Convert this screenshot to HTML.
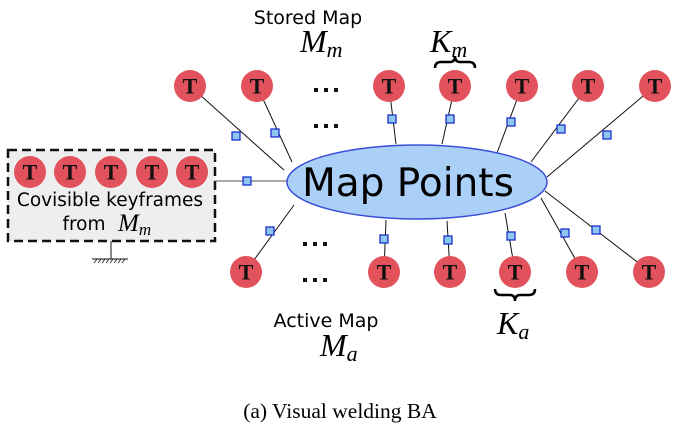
<!DOCTYPE html>
<html><head><style>body{margin:0;background:#fff}svg{display:block}</style></head><body>
<svg width="680" height="445" viewBox="0 0 680 445" xmlns="http://www.w3.org/2000/svg">
<defs>
<g id="T"><circle r="16" fill="#e2525c"/><text y="7.5" text-anchor="middle" font-family="Liberation Serif,serif" font-weight="bold" font-size="22" fill="#111">T</text></g>
<g id="S"><rect x="-4" y="-4" width="8" height="8" fill="#8ec6f0" stroke="#1a2fd0" stroke-width="1.3"/></g>
</defs>
<rect x="8" y="150" width="207" height="91" fill="#eeeeee" stroke="#111" stroke-width="2.5" stroke-dasharray="9,5"/>
<line x1="111" y1="241" x2="111" y2="259" stroke="#111" stroke-width="1"/>
<line x1="92" y1="259" x2="128" y2="259" stroke="#111" stroke-width="1"/>
<g stroke="#111" stroke-width="0.8">
<line x1="94" y1="263" x2="97" y2="259"/><line x1="98" y1="263" x2="101" y2="259"/><line x1="102" y1="263" x2="105" y2="259"/><line x1="106" y1="263" x2="109" y2="259"/><line x1="110" y1="263" x2="113" y2="259"/><line x1="114" y1="263" x2="117" y2="259"/><line x1="118" y1="263" x2="121" y2="259"/><line x1="122" y1="263" x2="125" y2="259"/></g>
<g stroke="#111" stroke-width="1">
<line x1="190" y1="86" x2="284" y2="170"/>
<line x1="257" y1="86" x2="292" y2="162"/>
<line x1="389" y1="86" x2="396" y2="144"/>
<line x1="455" y1="86" x2="442" y2="144"/>
<line x1="522" y1="86" x2="497" y2="153"/>
<line x1="588" y1="86" x2="531" y2="162"/>
<line x1="655" y1="86" x2="547" y2="177"/>
<line x1="246" y1="271" x2="294" y2="205"/>
<line x1="384" y1="271" x2="386" y2="220"/>
<line x1="450" y1="271" x2="447" y2="221"/>
<line x1="515" y1="271" x2="505" y2="213"/>
<line x1="582" y1="271" x2="541" y2="198"/>
<line x1="649" y1="271" x2="545" y2="191"/>
<line x1="215" y1="181" x2="288" y2="181" stroke="#555"/>
</g>
<ellipse cx="417" cy="182" rx="130" ry="37" fill="#aad0f7" stroke="#3a4fd8" stroke-width="1.5"/>
<text x="408" y="196" text-anchor="middle" font-family="DejaVu Sans,sans-serif" font-size="39" fill="#000">Map Points</text>
<use href="#S" x="236" y="136"/><use href="#S" x="275" y="133"/><use href="#S" x="392" y="119"/><use href="#S" x="450" y="119"/><use href="#S" x="511" y="122"/><use href="#S" x="561" y="129"/><use href="#S" x="607" y="135"/>
<use href="#S" x="270" y="231"/><use href="#S" x="384" y="239"/><use href="#S" x="448" y="240"/><use href="#S" x="511" y="236"/><use href="#S" x="565" y="233"/><use href="#S" x="596" y="230"/>
<use href="#S" x="247" y="181"/>
<use href="#T" x="190" y="86"/><use href="#T" x="257" y="86"/><use href="#T" x="389" y="86"/><use href="#T" x="455" y="86"/><use href="#T" x="522" y="86"/><use href="#T" x="588" y="86"/><use href="#T" x="655" y="86"/>
<use href="#T" x="246" y="272"/><use href="#T" x="384" y="272"/><use href="#T" x="450" y="272"/><use href="#T" x="515" y="272"/><use href="#T" x="582" y="272"/><use href="#T" x="649" y="272"/>
<use href="#T" x="30" y="172"/><use href="#T" x="70" y="172"/><use href="#T" x="111" y="172"/><use href="#T" x="152" y="172"/><use href="#T" x="192" y="172"/>
<g fill="#111"><rect x="314" y="88" width="4" height="4"/><rect x="324" y="88" width="4" height="4"/><rect x="334" y="88" width="4" height="4"/>
<rect x="314" y="124" width="4" height="4"/><rect x="324" y="124" width="4" height="4"/><rect x="334" y="124" width="4" height="4"/>
<rect x="303" y="242" width="4" height="4"/><rect x="313" y="242" width="4" height="4"/><rect x="323" y="242" width="4" height="4"/>
<rect x="303" y="278" width="4" height="4"/><rect x="313" y="278" width="4" height="4"/><rect x="323" y="278" width="4" height="4"/></g>
<g font-family="DejaVu Sans,sans-serif" font-size="19" fill="#000" text-anchor="middle">
<text x="308" y="24">Stored Map</text>
<text x="326" y="327">Active Map</text>
<text x="110" y="206" font-size="18.5">Covisible keyframes</text>
<text x="84" y="230" font-size="18.5">from</text>
</g>
<g font-family="Liberation Serif,serif" font-style="italic" fill="#000">
<text x="300" y="52" font-size="32">M<tspan font-size="22" dy="5">m</tspan></text>
<text x="430" y="52" font-size="32">K<tspan font-size="22" dy="5">m</tspan></text>
<text x="320" y="356" font-size="32">M<tspan font-size="22" dy="5">a</tspan></text>
<text x="497" y="334" font-size="32">K<tspan font-size="22" dy="5">a</tspan></text>
<text x="118" y="231" font-size="25">M<tspan font-size="17" dy="4">m</tspan></text>
</g>
<path d="M435 68 Q435 62 441 62 L450 62 Q455 62 455 56 Q455 62 460 62 L469 62 Q475 62 475 68" fill="none" stroke="#000" stroke-width="2.5"/>
<path d="M495 289 Q495 295 501 295 L510 295 Q515 295 515 301 Q515 295 520 295 L529 295 Q535 295 535 289" fill="none" stroke="#000" stroke-width="2.5"/>
<text x="340" y="418" text-anchor="middle" font-family="Liberation Serif,serif" font-size="21.5" fill="#000">(a) Visual welding BA</text>
</svg>
</body></html>
